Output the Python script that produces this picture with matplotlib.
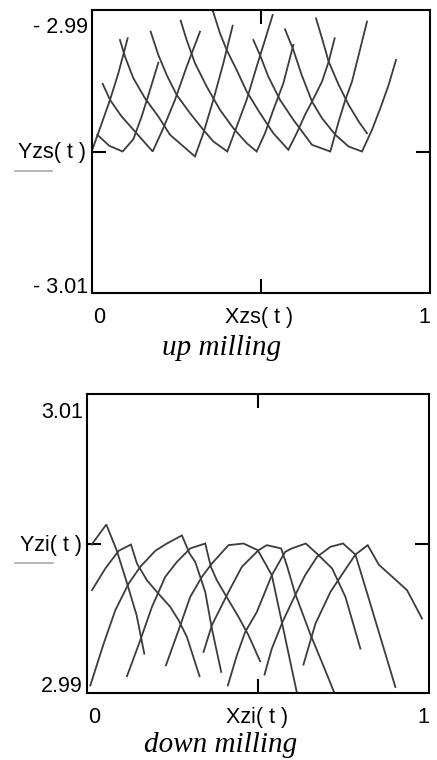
import matplotlib
matplotlib.use("Agg")
import matplotlib.pyplot as plt
from matplotlib.lines import Line2D

# ── Tooth-tip paths, up milling (Xzs(t), Yzs(t)) ────────────────────────────
xzs = [
    [0.0, 0.0237, 0.0533, 0.0779, 0.1055],
    [0.0158, 0.0513, 0.0907, 0.1223, 0.1469, 0.1716, 0.1963],
    [0.0316, 0.0533, 0.0878, 0.1272, 0.1795, 0.2110, 0.2456, 0.2801, 0.3195],
    [0.0828, 0.0976, 0.1223, 0.1568, 0.1963, 0.2308, 0.3047, 0.3294, 0.3590, 0.3886, 0.4162],
    [0.1736, 0.1963, 0.2209, 0.2505, 0.2899, 0.3294, 0.3590, 0.4004, 0.4280, 0.4576, 0.4872,
     0.5118, 0.5345],
    [0.2623, 0.2801, 0.3047, 0.3393, 0.3787, 0.4181, 0.4576, 0.4872, 0.5118, 0.5365, 0.5661,
     0.5957],
    [0.3521, 0.3787, 0.3984, 0.4280, 0.4576, 0.4970, 0.5365, 0.5809, 0.6055, 0.6302, 0.6509,
     0.6805, 0.7002, 0.7179],
    [0.4773, 0.4970, 0.5217, 0.5562, 0.5957, 0.6509, 0.7051, 0.7298, 0.7495, 0.7692, 0.7890,
     0.8136],
    [0.5710, 0.5957, 0.6203, 0.6509, 0.6805, 0.7199, 0.7594, 0.7988, 0.8284, 0.8531, 0.8777,
     0.8994],
    [0.6627, 0.6805, 0.7002, 0.7298, 0.7594, 0.7890, 0.8136],
]
yzs = [
    [-2.99993, -2.99835, -2.99635, -2.99447, -2.99200],
    [-2.99882, -2.99960, -3.00000, -2.99913, -2.99753, -2.99565, -2.99372],
    [-2.99522, -2.99635, -2.99753, -2.99859, -3.00000, -2.99835, -2.99635, -2.99400, -2.99153],
    [-2.99212, -2.99329, -2.99482, -2.99624, -2.99753, -2.99882, -3.00035, -2.99871, -2.99635,
     -2.99376, -2.99111],
    [-2.99153, -2.99318, -2.99459, -2.99600, -2.99729, -2.99847, -2.99929, -3.00000, -2.99824,
     -2.99635, -2.99400, -2.99212, -2.99035],
    [-2.99075, -2.99212, -2.99376, -2.99541, -2.99706, -2.99835, -2.99941, -3.00000, -2.99871,
     -2.99706, -2.99518, -2.99247],
    [-2.98965, -2.99165, -2.99282, -2.99424, -2.99576, -2.99729, -2.99871, -2.99988, -2.99871,
     -2.99741, -2.99647, -2.99506, -2.99365, -2.99200],
    [-2.99212, -2.99318, -2.99471, -2.99635, -2.99776, -2.99953, -3.00000, -2.99788, -2.99635,
     -2.99506, -2.99318, -2.99082],
    [-2.99136, -2.99282, -2.99459, -2.99647, -2.99765, -2.99882, -2.99965, -3.00000, -2.99847,
     -2.99694, -2.99529, -2.99353],
    [-2.99059, -2.99200, -2.99365, -2.99529, -2.99671, -2.99788, -2.99871],
]

# ── Tooth-tip paths, down milling (Xzi(t), Yzi(t)) ──────────────────────────
xzi = [
    [0.0136, 0.0565, 0.0867, 0.1159, 0.1451, 0.1675],
    [0.0146, 0.0536, 0.0925, 0.1285, 0.1461, 0.1753, 0.2045, 0.2434, 0.2678, 0.2921, 0.3291],
    [0.0097, 0.0487, 0.0828, 0.1217, 0.1558, 0.1996, 0.2337, 0.2775, 0.2999, 0.3165, 0.3457,
     0.3651, 0.3924],
    [0.1168, 0.1558, 0.1899, 0.2288, 0.2629, 0.3018, 0.3457, 0.3622, 0.3797, 0.4138, 0.4430,
     0.4723, 0.5063],
    [0.2308, 0.2678, 0.3018, 0.3359, 0.3651, 0.4138, 0.4576, 0.4995, 0.5404, 0.5696, 0.6164],
    [0.3408, 0.3651, 0.3797, 0.4138, 0.4528, 0.5015, 0.5258, 0.5677, 0.5842, 0.6086, 0.6524,
     0.6865, 0.7283],
    [0.4119, 0.4382, 0.4625, 0.4966, 0.5404, 0.5794, 0.5988, 0.6397, 0.6719, 0.7167, 0.7556,
     0.7994],
    [0.5190, 0.5404, 0.5716, 0.6086, 0.6378, 0.6728, 0.7118, 0.7488, 0.7848, 0.8238, 0.9017],
    [0.6329, 0.6680, 0.7118, 0.7410, 0.7848, 0.8208, 0.8530, 0.9357, 0.9796],
]
yzi = [
    [2.99993, 3.00127, 2.99955, 2.99743, 2.99520, 2.99263],
    [2.99688, 2.99833, 2.99951, 2.99993, 2.99866, 2.99754, 2.99676, 2.99576, 2.99487, 2.99375,
     2.99112],
    [2.99051, 2.99330, 2.99554, 2.99732, 2.99844, 2.99951, 3.00000, 3.00054, 2.99933, 2.99877,
     2.99676, 2.99431, 2.99141],
    [2.99112, 2.99353, 2.99576, 2.99777, 2.99877, 2.99967, 3.00000, 2.99844, 2.99754, 2.99621,
     2.99509, 2.99386, 2.99212],
    [2.99185, 2.99420, 2.99643, 2.99777, 2.99866, 2.99989, 3.00000, 2.99955, 2.99788, 2.99475,
     2.98973],
    [2.99275, 2.99453, 2.99520, 2.99676, 2.99844, 2.99955, 2.99989, 2.99967, 2.99855, 2.99665,
     2.99397, 2.99208, 2.98973],
    [2.99051, 2.99252, 2.99408, 2.99542, 2.99788, 2.99944, 2.99967, 3.00000, 2.99933, 2.99833,
     2.99643, 2.99297],
    [2.99123, 2.99297, 2.99475, 2.99654, 2.99788, 2.99911, 2.99978, 3.00000, 2.99926, 2.99632,
     2.99040],
    [2.99190, 2.99464, 2.99676, 2.99777, 2.99926, 2.99989, 2.99859, 2.99688, 2.99498],
]

up_ylim = (-3.01, -2.99)
dn_ylim = (2.99, 3.01)

W, H = 437, 760
SANS = "Liberation Sans"
SERIF = "Liberation Serif"
CURVE = "#3c3c3c"


def fx(px):
    return px / W


def fy(py):
    return 1 - py / H


def frame(ax, ylim):
    ax.set_xlim(0, 1)
    ax.set_ylim(*ylim)
    for s in ax.spines.values():
        s.set_linewidth(1.5)
        s.set_color("black")
    # Mathcad-style: a single inward tick at the middle of each side
    ax.set_xticks([0.5])
    ax.set_yticks([(ylim[0] + ylim[1]) / 2])
    ax.tick_params(direction="in", length=10, width=1.5, color="black",
                   top=True, right=True, labelbottom=False, labelleft=False)


fig = plt.figure(figsize=(W / 100, H / 100), dpi=100)
fig.patch.set_facecolor("white")

ax_up = fig.add_axes([fx(92), fy(293), fx(430) - fx(92), fy(10) - fy(293)])
ax_dn = fig.add_axes([fx(87), fy(693), fx(429) - fx(87), fy(394) - fy(693)])

for xs, ys in zip(xzs, yzs):
    ax_up.plot(xs, ys, color=CURVE, lw=1.3, solid_joinstyle="miter")
for xs, ys in zip(xzi, yzi):
    ax_dn.plot(xs, ys, color=CURVE, lw=1.3, solid_joinstyle="miter")

frame(ax_up, up_ylim)
frame(ax_dn, dn_ylim)

fs = 15.5
txt = dict(fontsize=fs, family=SANS, color="black")

# ── up milling labels ──
fig.text(fx(88), fy(33), "- 2.99", ha="right", va="baseline", **txt)
fig.text(fx(88), fy(293), "- 3.01", ha="right", va="baseline", **txt)
fig.text(fx(86), fy(158), "Yzs( t )", ha="right", va="baseline", **txt)
fig.add_artist(Line2D([fx(15), fx(52)], [fy(171), fy(171)], color="#a0a0a0", lw=1.1))
fig.text(fx(93), fy(323), "0", ha="left", va="baseline", **txt)
fig.text(fx(259), fy(323), "Xzs( t )", ha="center", va="baseline", **txt)
fig.text(fx(430), fy(323), "1", ha="right", va="baseline", **txt)
fig.text(fx(222), fy(355), "up milling", ha="center", va="baseline",
         fontsize=21, family=SERIF, style="italic")

# ── down milling labels ──
fig.text(fx(83), fy(418), "3.01", ha="right", va="baseline", **txt)
fig.text(fx(83), fy(692), "2.99", ha="right", va="baseline", **txt)
fig.text(fx(82), fy(551), "Yzi( t )", ha="right", va="baseline", **txt)
fig.add_artist(Line2D([fx(15), fx(53)], [fy(563), fy(563)], color="#a0a0a0", lw=1.1))
fig.text(fx(88), fy(723), "0", ha="left", va="baseline", **txt)
fig.text(fx(257), fy(723), "Xzi( t )", ha="center", va="baseline", **txt)
fig.text(fx(429), fy(723), "1", ha="right", va="baseline", **txt)
fig.text(fx(221), fy(752), "down milling", ha="center", va="baseline",
         fontsize=21, family=SERIF, style="italic")

fig.savefig("out.png", dpi=100)
